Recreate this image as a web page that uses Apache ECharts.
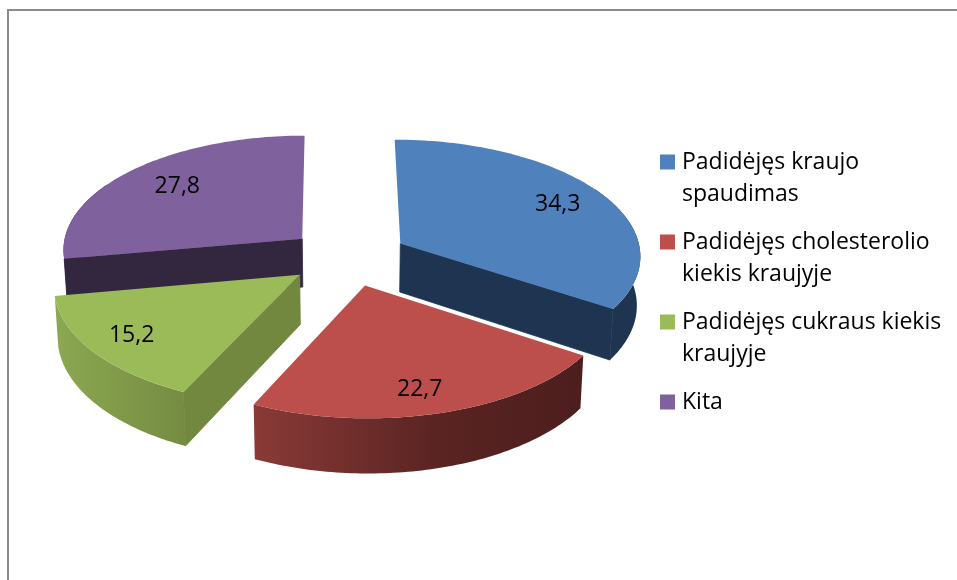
<!DOCTYPE html>
<html>
<head>
<meta charset="utf-8">
<style>html,body{margin:0;padding:0;background:#fff}#c{width:957px;height:580px}</style>
<script src="https://cdn.jsdelivr.net/npm/echarts@6/dist/echarts.min.js"></script>
</head>
<body>
<div id="c"></div>
<script>
const categories = ['Padidėjęs kraujo spaudimas', 'Padidėjęs cholesterolio kiekis kraujyje', 'Padidėjęs cukraus kiekis kraujyje', 'Kita'];
const legendLines = [['Padidėjęs kraujo', 'spaudimas'], ['Padidėjęs cholesterolio', 'kiekis kraujyje'], ['Padidėjęs cukraus kiekis', 'kraujyje'], ['Kita']];
const values = [34.3, 22.7, 15.2, 27.8];
const topColors = ['#4F81BD', '#BC4F4C', '#9BBB59', '#7F619E'];
const edgeColors = ['#1E3450', '#1E3450', '#72883F', '#33273F'];
const arcStops = [
  [[0, '#1E3450'], [1, '#1E3450']],
  [[0, '#8A3A37'], [0.55, '#5A2422'], [1, '#4C1E1D']],
  [[0, '#8CA851'], [1, '#748C42']],
  [[0, '#33273F'], [1, '#33273F']]
];
const labelTurn = [63, 166.2, 233.1, 311.2];
const labelReach = [0.774, 0.82, 0.815, 0.736];
const drawOrder = [3, 0, 2, 1];

const VIEW = { cx: 348, vx: 331, cy: 257, R: 241, Rk: 115.5, p: 0.09, burst: 0.25, depth: 49, shrink: 0.988, shrinkAt: 347 };
const total = values.reduce((a, b) => a + b, 0);
const starts = values.map((_, i) => values.slice(0, i).reduce((a, b) => a + b, 0) / total * 2 * Math.PI);
const ends = starts.map((s, i) => s + values[i] / total * 2 * Math.PI);

function project(u, v) {
  const s = 1 / (1 - VIEW.p * v);
  return [VIEW.vx + (VIEW.cx - VIEW.vx + VIEW.R * u) * s, VIEW.cy + VIEW.Rk * v * s, s];
}
function sliceItem(i) {
  return function (params, api) {
    const a0 = starts[i], a1 = ends[i], mid = (a0 + a1) / 2;
    const ox = VIEW.burst * Math.sin(mid), oy = -VIEW.burst * Math.cos(mid);
    const top = (a, r) => project(ox + r * Math.sin(a), oy - r * Math.cos(a));
    const low = (p) => [VIEW.shrinkAt + (p[0] - VIEW.shrinkAt) * VIEW.shrink, p[1] + VIEW.depth * p[2]];
    const flat = (p) => [p[0], p[1]];
    const arc = (from, to) => {
      const pts = [], n = 80;
      for (let j = 0; j <= n; j++) pts.push(top(from + (to - from) * j / n, 1));
      return pts;
    };
    const apex = top(0, 0);
    const kids = [];
    const face = (points, fill, seal) => kids.push({
      type: 'polygon', shape: { points },
      style: seal ? { fill, stroke: fill, lineWidth: 0.8 } : { fill }
    });
    const HALF = Math.PI;
    const f0 = Math.max(a0, HALF / 3), f1 = Math.min(a1, HALF * 5 / 3);
    if (f1 > f0) {
      const rim = arc(f0, f1);
      face(rim.map(flat).concat(rim.map(low).reverse()), {
        type: 'linear', x: 0, y: 0, x2: 1, y2: 0,
        colorStops: arcStops[i].map(s => ({ offset: s[0], color: s[1] }))
      }, false);
    }
    if (a0 > HALF && a0 < 2 * HALF) {
      const e = top(a0, 1);
      face([flat(apex), flat(e), low(e), low(apex)], edgeColors[i], true);
    }
    if (a1 > 0 && a1 < HALF) {
      const e = top(a1, 1);
      face([flat(apex), flat(e), low(e), low(apex)], edgeColors[i], true);
    }
    face([flat(apex)].concat(arc(a0, a1).map(flat)), topColors[i]);
    const lp = top(labelTurn[i] * Math.PI / 180, labelReach[i]);
    kids.push({
      type: 'text', x: lp[0], y: lp[1],
      style: { text: values[i].toFixed(1).replace('.', ','), fill: '#000', font: '23px "Open Sans"', align: 'center', verticalAlign: 'middle' }
    });
    return { type: 'group', children: kids };
  };
}
const chart = echarts.init(document.getElementById('c'), null, { renderer: 'canvas' });
chart.setOption({
  animation: false,
  backgroundColor: '#fff',
  graphic: [
    { type: 'line', shape: { x1: 8, y1: 10, x2: 957, y2: 10 }, style: { stroke: '#8A8A8A', lineWidth: 2 }, z: 0 },
    { type: 'line', shape: { x1: 8, y1: 9, x2: 8, y2: 580 }, style: { stroke: '#8A8A8A', lineWidth: 2 }, z: 0 }
  ],
  legend: {
    data: categories,
    orient: 'vertical',
    left: 660,
    top: 114,
    padding: 0,
    itemWidth: 15,
    itemHeight: 15,
    itemGap: -16,
    selectedMode: false,
    icon: 'rect',
    textStyle: { fontFamily: 'Open Sans', fontSize: 23, lineHeight: 32, color: '#000', padding: [0, 0, 0, 2] },
    formatter: (name) => {
      const lines = legendLines[categories.indexOf(name)];
      return '\n' + lines.join('\n') + (lines.length === 1 ? '\n' : '');
    }
  },
  series: drawOrder.map(i => ({
    type: 'custom',
    name: categories[i],
    coordinateSystem: 'none',
    itemStyle: { color: topColors[i] },
    data: [values[i]],
    renderItem: sliceItem(i)
  }))
});
</script>
</body>
</html>
